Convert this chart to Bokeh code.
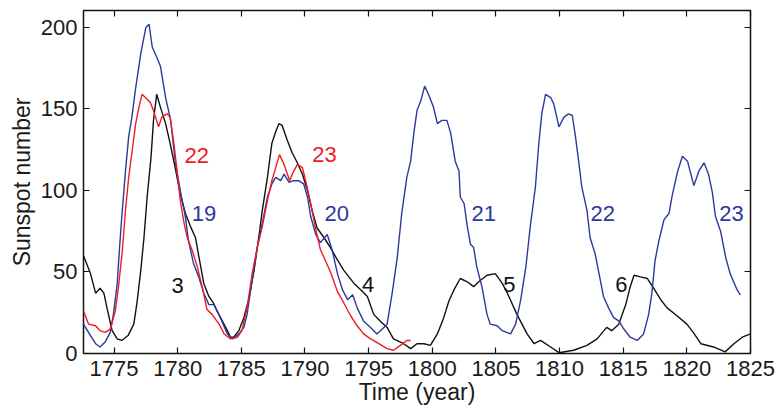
from bokeh.plotting import figure
from bokeh.models import Range1d, LinearAxis, FixedTicker, ColumnDataSource
from bokeh.core.properties import value
from bokeh.embed import file_html
from bokeh.resources import INLINE

# ---- data ----
black_years = [1772.6, 1773.15, 1773.55, 1773.9, 1774.2, 1774.5, 1774.85, 1775.25, 1775.6, 1776.1,
               1776.55, 1776.8, 1777.1, 1777.35, 1777.6, 1777.9, 1778.1, 1778.35, 1778.65, 1779.05,
               1779.4, 1779.8, 1780.2, 1780.6, 1781.0, 1781.4, 1781.65, 1782.05, 1782.45, 1782.8,
               1783.1, 1783.5, 1783.9, 1784.15, 1784.4, 1784.8, 1785.2, 1785.6, 1786.0, 1786.4,
               1786.65, 1787.05, 1787.4, 1787.7, 1787.95, 1788.2, 1788.6, 1789.0, 1789.4, 1789.8,
               1790.2, 1790.55, 1790.95, 1791.5, 1792.0, 1792.5, 1793.05, 1793.85, 1794.4, 1794.9,
               1795.4, 1795.9, 1796.45, 1796.95, 1797.75, 1798.3, 1798.8, 1799.35, 1799.85, 1800.4,
               1800.9, 1801.3, 1801.7, 1802.2, 1802.75, 1803.25, 1803.65, 1804.3, 1804.95, 1805.5,
               1805.9, 1806.65, 1807.45, 1808.0, 1808.5, 1809.3, 1809.95, 1811.1, 1812.15, 1812.95,
               1813.7, 1814.1, 1814.65, 1815.2, 1815.55, 1815.85, 1816.35, 1816.9, 1817.4, 1817.95,
               1818.45, 1819.25, 1820.0, 1820.5, 1821.1, 1822.1, 1823.0, 1823.7, 1824.35, 1825.0]
black_values = [60, 49, 37, 40, 37, 26, 14, 9, 8, 11,
                18, 31, 51, 71, 96, 120, 143, 159, 151, 141,
                129, 114, 98, 86, 78, 71, 60, 43, 35, 31,
                26, 20, 14, 10, 10, 14, 22, 34, 51, 73,
                88, 108, 129, 136, 141, 140, 131, 123, 117, 110,
                100, 88, 77, 71, 65, 58, 51, 43, 39, 35,
                24, 20, 16, 9, 6, 3, 6, 6, 5, 12,
                22, 32, 39, 46, 44, 41, 44, 48, 49, 43,
                37, 24, 12, 6, 8, 4, 0.5, 2, 5, 9,
                16, 14, 18, 30, 41, 48, 47, 46, 40, 33,
                28, 23, 18, 13, 6, 4, 1, 6, 10, 12]

blue_years = [1772.6, 1773.15, 1773.55, 1773.9, 1774.3, 1774.7, 1774.95, 1775.25, 1775.45, 1775.65,
              1775.9, 1776.15, 1776.4, 1776.7, 1777.1, 1777.5, 1777.75, 1778.0, 1778.4, 1778.65,
              1779.05, 1779.45, 1779.8, 1780.2, 1780.6, 1780.85, 1781.25, 1781.65, 1782.05, 1782.45,
              1782.85, 1783.35, 1783.9, 1784.3, 1784.8, 1785.2, 1785.45, 1785.85, 1786.25, 1786.65,
              1787.05, 1787.4, 1787.7, 1788.1, 1788.35, 1788.75, 1789.1, 1789.5, 1789.9, 1790.2,
              1790.45, 1790.85, 1791.2, 1791.75, 1792.15, 1792.55, 1792.95, 1793.35, 1793.75, 1794.1,
              1794.6, 1795.15, 1795.65, 1796.2, 1796.45, 1796.85, 1797.25, 1797.6, 1798.0, 1798.3,
              1798.55, 1798.8, 1799.1, 1799.4, 1799.7, 1800.1, 1800.4, 1800.75, 1801.15, 1801.45,
              1801.8, 1802.1, 1802.2, 1802.5, 1802.75, 1803.0, 1803.25, 1803.5, 1803.9, 1804.3,
              1804.55, 1805.1, 1805.5, 1806.15, 1806.55, 1806.95, 1807.35, 1807.7, 1808.1, 1808.35,
              1808.6, 1808.9, 1809.3, 1809.55, 1809.95, 1810.35, 1810.7, 1811.0, 1811.25, 1811.5,
              1811.75, 1812.15, 1812.4, 1812.8, 1813.1, 1813.45, 1813.85, 1814.25, 1814.65, 1815.05,
              1815.55, 1816.1, 1816.6, 1817.0, 1817.25, 1817.5, 1817.8, 1818.2, 1818.6, 1818.85,
              1819.25, 1819.65, 1820.05, 1820.55, 1820.95, 1821.35, 1821.7, 1822.0, 1822.25, 1822.65,
              1823.05, 1823.4, 1823.95, 1824.2]
blue_values = [18, 11, 6, 4, 7, 13, 24, 43, 67, 88,
               112, 133, 145, 163, 184, 200, 202, 188, 181, 176,
               157, 143, 118, 100, 84, 69, 55, 47, 37, 30,
               30, 22, 12, 9, 12, 16, 24, 45, 65, 80,
               96, 104, 108, 106, 110, 105, 106, 106, 104, 96,
               84, 73, 68, 73, 63, 49, 39, 33, 36, 28,
               20, 16, 12, 16, 18, 37, 59, 86, 108, 118,
               135, 149, 155, 164, 159, 151, 141, 143, 143, 135,
               118, 112, 96, 92, 78, 67, 65, 53, 41, 24,
               18, 17, 14, 12, 18, 33, 53, 78, 102, 127,
               147, 159, 157, 153, 139, 145, 147, 146, 133, 118,
               102, 88, 71, 61, 49, 35, 28, 22, 20, 15,
               10, 8, 12, 24, 37, 57, 69, 82, 86, 97,
               111, 121, 118, 103, 112, 117, 110, 99, 84, 75,
               59, 49, 39, 36]

red_years = [1772.6, 1773.0, 1773.55, 1773.9, 1774.3, 1774.7, 1775.1, 1775.35, 1775.65, 1775.9,
             1776.15, 1776.4, 1776.7, 1776.95, 1777.2, 1777.6, 1777.85, 1778.1, 1778.5, 1778.75,
             1779.15, 1779.4, 1779.7, 1779.95, 1780.2, 1780.5, 1780.75, 1781.15, 1781.55, 1781.95,
             1782.3, 1782.7, 1783.25, 1783.65, 1784.15, 1784.7, 1785.05, 1785.45, 1785.85, 1786.25,
             1786.65, 1787.05, 1787.4, 1787.7, 1788.0, 1788.35, 1788.8, 1789.0, 1789.4, 1789.8,
             1790.05, 1790.45, 1790.85, 1791.2, 1791.6, 1792.0, 1792.55, 1793.05, 1793.6, 1794.1,
             1794.6, 1795.15, 1795.8, 1796.45, 1796.95, 1797.5, 1798.0, 1798.3]
red_values = [26, 18, 17, 14, 13, 15, 26, 41, 63, 88,
              108, 123, 141, 151, 159, 156, 154, 149, 139, 145,
              147, 145, 129, 112, 94, 80, 71, 63, 53, 40,
              27, 24, 18, 12, 9, 10, 14, 28, 49, 65,
              78, 94, 106, 114, 122, 116, 106, 110, 116, 114,
              106, 92, 76, 64, 57, 50, 38, 31, 23, 17,
              12, 9, 6, 3, 2, 5, 8, 8]

label_texts = ["22", "19", "3", "23", "20", "4", "21", "5", "22", "6", "23"]
label_x = [1781.5, 1782.06, 1780.0, 1791.53, 1792.5, 1794.95, 1804.05, 1806.06, 1813.4, 1814.86, 1823.5]
label_y = [121.5, 85.6, 41.7, 121.8, 85.6, 42.3, 85.6, 42.3, 85.6, 42.3, 85.6]
label_series = ["red", "blue", "black", "red", "blue", "black", "blue", "black", "blue", "black", "blue"]

x_ticks = [1775, 1780, 1785, 1790, 1795, 1800, 1805, 1810, 1815, 1820, 1825]
y_ticks = [0, 50, 100, 150, 200]

COL = {"black": "#111111", "blue": "#2a3a9c", "red": "#ee1c24"}
FONT = "Liberation Sans"

p = figure(width=775, height=412, output_backend="svg", toolbar_location=None,
           x_range=Range1d(1772.6, 1825), y_range=Range1d(0, 210.4),
           min_border_left=83, min_border_right=25, min_border_top=10, min_border_bottom=59)
p.background_fill_color = "white"
p.border_fill_color = "white"
p.outline_line_color = "#111111"
p.outline_line_width = 1.5
p.grid.visible = False

p.line(black_years, black_values, line_color=COL["black"], line_width=1.4)
p.line(blue_years, blue_values, line_color=COL["blue"], line_width=1.4)
p.line(red_years, red_values, line_color=COL["red"], line_width=1.4)

src = ColumnDataSource(dict(x=label_x, y=label_y, t=label_texts,
                            c=[COL[s] for s in label_series]))
p.text(x="x", y="y", text="t", source=src, text_color="c", text_align="center",
       text_baseline="middle", text_font=value(FONT), text_font_size="22px")

def style_axis(ax, ticks, labels=True, standoff=6):
    ax.ticker = FixedTicker(ticks=ticks)
    ax.axis_line_color = None
    ax.major_tick_in = 6
    ax.major_tick_out = 0
    ax.minor_tick_line_color = None
    ax.major_tick_line_color = "#111111"
    ax.major_tick_line_width = 1.2
    if labels:
        ax.major_label_text_font = FONT
        ax.major_label_text_font_size = "22px"
        ax.major_label_text_color = "#1a1a1a"
        ax.major_label_standoff = standoff
    else:
        ax.major_label_text_font_size = "1px"
        ax.major_label_text_color = None
        ax.major_label_text_alpha = 0
        ax.major_label_standoff = 0

style_axis(p.xaxis[0], x_ticks, standoff=7)
style_axis(p.yaxis[0], y_ticks, standoff=6)
p.xaxis.axis_label = "Time (year)"
p.yaxis.axis_label = "Sunspot number"
for ax in (p.xaxis[0], p.yaxis[0]):
    ax.axis_label_text_font = FONT
    ax.axis_label_text_font_size = "23px"
    ax.axis_label_text_font_style = "normal"
    ax.axis_label_text_color = "#1a1a1a"
p.xaxis[0].axis_label_standoff = 0
p.yaxis[0].axis_label_standoff = 3

top_ax = LinearAxis()
style_axis(top_ax, x_ticks, labels=False)
p.add_layout(top_ax, "above")
right_ax = LinearAxis()
style_axis(right_ax, y_ticks, labels=False)
p.add_layout(right_ax, "right")

open("out.html", "w").write(file_html(p, INLINE))
